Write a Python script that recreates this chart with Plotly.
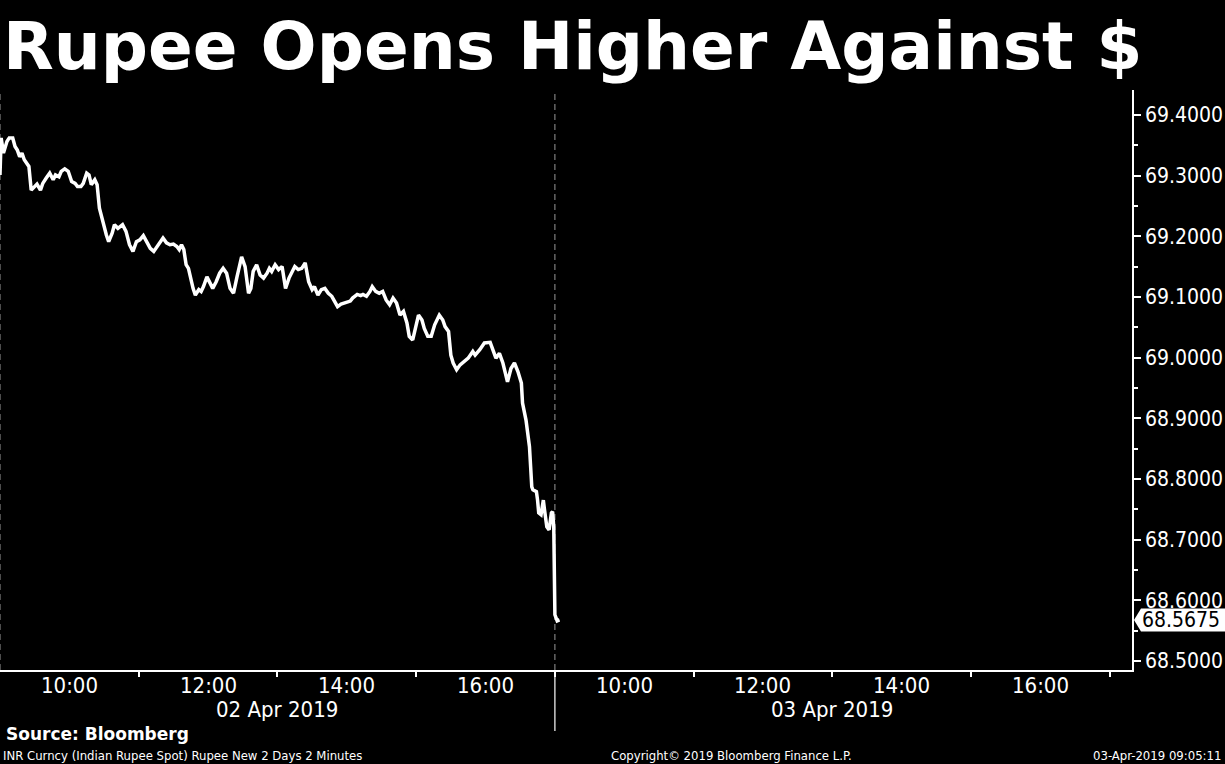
import plotly.graph_objects as go

# ---------------- data ----------------
day1_times = [
    "09:00", "09:01", "09:03", "09:06", "09:08", "09:11", "09:13", "09:15", "09:17", "09:19",
    "09:21", "09:23", "09:25", "09:27", "09:30", "09:32", "09:35", "09:37", "09:40", "09:43",
    "09:46", "09:48", "09:51", "09:53", "09:56", "09:59", "10:02", "10:05", "10:07", "10:10",
    "10:12", "10:15", "10:17", "10:19", "10:22", "10:24", "10:26", "10:28", "10:30", "10:32",
    "10:34", "10:37", "10:39", "10:42", "10:46", "10:49", "10:52", "10:55", "10:58", "11:01",
    "11:04", "11:07", "11:10", "11:13", "11:15", "11:18", "11:21", "11:24", "11:27", "11:30",
    "11:33", "11:35", "11:37", "11:39", "11:41", "11:43", "11:45", "11:47", "11:49", "11:52",
    "11:54", "11:56", "11:59", "12:02", "12:04", "12:07", "12:10", "12:13", "12:16", "12:19",
    "12:22", "12:25", "12:29", "12:32", "12:35", "12:37", "12:39", "12:42", "12:45", "12:48",
    "12:51", "12:53", "12:55", "12:58", "13:01", "13:04", "13:07", "13:10", "13:13", "13:15",
    "13:18", "13:21", "13:24", "13:27", "13:30", "13:32", "13:35", "13:38", "13:41", "13:44",
    "13:47", "13:50", "13:52", "13:55", "13:59", "14:03", "14:05", "14:09", "14:12", "14:14",
    "14:17", "14:20", "14:22", "14:25", "14:28", "14:31", "14:34", "14:37", "14:40", "14:43",
    "14:46", "14:49", "14:52", "14:54", "14:57", "14:59", "15:02", "15:05", "15:07", "15:10",
    "15:13", "15:16", "15:20", "15:23", "15:25", "15:28", "15:30", "15:32", "15:35", "15:38",
    "15:41", "15:45", "15:49", "15:51", "15:55", "15:59", "16:04", "16:06", "16:09", "16:12",
    "16:15", "16:19", "16:22", "16:25", "16:28", "16:31", "16:32", "16:35", "16:38", "16:39",
    "16:40", "16:41", "16:44", "16:45", "16:46", "16:48", "16:50", "16:51", "16:53", "16:55",
    "16:57", "16:58", "16:59",
]
day1_values = [
    69.301, 69.362, 69.337, 69.356, 69.362, 69.362, 69.348, 69.342, 69.331, 69.337,
    69.326, 69.320, 69.315, 69.276, 69.282, 69.286, 69.276, 69.287, 69.296, 69.304,
    69.293, 69.301, 69.298, 69.307, 69.311, 69.307, 69.290, 69.287, 69.282, 69.282,
    69.287, 69.304, 69.301, 69.285, 69.293, 69.285, 69.246, 69.230, 69.219, 69.202,
    69.191, 69.205, 69.219, 69.213, 69.219, 69.208, 69.186, 69.175, 69.191, 69.194,
    69.201, 69.189, 69.180, 69.175, 69.180, 69.189, 69.197, 69.189, 69.186, 69.187,
    69.183, 69.178, 69.186, 69.178, 69.153, 69.147, 69.128, 69.114, 69.103, 69.112,
    69.109, 69.117, 69.133, 69.120, 69.114, 69.125, 69.139, 69.147, 69.139, 69.114,
    69.106, 69.133, 69.166, 69.150, 69.106, 69.114, 69.142, 69.153, 69.136, 69.131,
    69.139, 69.147, 69.142, 69.153, 69.145, 69.150, 69.114, 69.131, 69.142, 69.150,
    69.145, 69.147, 69.156, 69.125, 69.112, 69.117, 69.103, 69.112, 69.114, 69.106,
    69.101, 69.092, 69.084, 69.088, 69.090, 69.093, 69.098, 69.104, 69.102, 69.104,
    69.101, 69.109, 69.117, 69.109, 69.106, 69.109, 69.095, 69.087, 69.098, 69.090,
    69.070, 69.076, 69.057, 69.035, 69.029, 69.048, 69.070, 69.062, 69.048, 69.035,
    69.035, 69.054, 69.070, 69.062, 69.051, 69.043, 69.004, 68.991, 68.980, 68.988,
    68.993, 68.999, 69.010, 69.004, 69.013, 69.024, 69.025, 69.015, 68.999, 69.007,
    68.991, 68.960, 68.982, 68.991, 68.977, 68.958, 68.925, 68.897, 68.853, 68.820,
    68.787, 68.782, 68.779, 68.765, 68.744, 68.741, 68.765, 68.749, 68.721, 68.716,
    68.744, 68.746, 68.721,
]
day2_times = ["09:00", "09:02", "09:04"]
day2_values = [68.576, 68.566, 68.5675]

dates = ["02 Apr 2019", "03 Apr 2019"]
hour_labels = ["10:00", "12:00", "14:00", "16:00"]
label_hours = [10, 12, 14, 16]
minor_hours = [11, 13, 15, 17]
y_ticks = [68.5, 68.6, 68.7, 68.8, 68.9, 69.0, 69.1, 69.2, 69.3, 69.4]

title = "Rupee Opens Higher Against $"
source = "Source: Bloomberg"
note = "INR Curncy (Indian Rupee Spot) Rupee New 2 Days 2 Minutes"
copyright_txt = "Copyright\u00a9 2019 Bloomberg Finance L.P."
stamp = "03-Apr-2019 09:05:11"

# ---------------- helpers ----------------
SESSION_START = 9
SESSION_LEN = 8


def pos(day, t):
    h, m = (int(p) for p in t.split(":"))
    return day * SESSION_LEN + (h - SESSION_START) + m / 60.0


xs = [pos(0, t) for t in day1_times] + [pos(1, t) for t in day2_times]
ys = day1_values + day2_values

W, H = 1225, 764
ML, MR, MT, MB = 0, 93, 90, 94
PW = W - ML - MR
PH = H - MT - MB
XR = [0, 16.32]
YR = [68.485, 69.441]

FONT = "DejaVu Sans Condensed, DejaVu Sans, sans-serif"
WHITE = "#ffffff"

fig = go.Figure()
fig.add_trace(go.Scatter(
    x=xs, y=ys, mode="lines",
    line=dict(color=WHITE, width=3.5),
    hoverinfo="skip", showlegend=False,
))

tickvals = [d * SESSION_LEN + (h - SESSION_START) for d in range(len(dates)) for h in label_hours]
ticktext = hour_labels * len(dates)
minorvals = [d * SESSION_LEN + (h - SESSION_START) for d in range(len(dates)) for h in minor_hours]
y_minor = [round(v + 0.05, 3) for v in y_ticks[:-1]]

fig.update_layout(
    width=W, height=H,
    margin=dict(l=ML, r=MR, t=MT, b=MB),
    paper_bgcolor="#000000", plot_bgcolor="#000000",
    font=dict(family=FONT, color=WHITE, size=21),
    showlegend=False,
    xaxis=dict(
        range=XR, showgrid=False, zeroline=False,
        showline=True, linecolor=WHITE, linewidth=1.5,
        tickmode="array", tickvals=tickvals, ticktext=ticktext,
        ticks="", showticklabels=False,
        minor=dict(tickmode="array", tickvals=minorvals, ticks="outside",
                   ticklen=5, tickwidth=1.5, tickcolor=WHITE, showgrid=False),
        fixedrange=True,
    ),
    yaxis=dict(
        range=YR, side="right", showgrid=False, zeroline=False,
        showline=True, linecolor=WHITE, linewidth=1.5,
        tickmode="array", tickvals=y_ticks, ticktext=[f"{v:.4f}" for v in y_ticks],
        ticks="outside", ticklen=7, tickwidth=2, tickcolor=WHITE,
        tickfont=dict(family=FONT, size=21, color=WHITE),
        minor=dict(tickmode="array", tickvals=y_minor, ticks="outside",
                   ticklen=4, tickwidth=1.5, tickcolor=WHITE, showgrid=False),
        fixedrange=True,
    ),
)


def px_to_paper_x(px):
    return (px - ML) / PW


def px_to_paper_y(py):
    return (H - MB - py) / PH


# hour labels (placed on the x scale, between the odd-hour tick marks)
for xv, lab in zip(tickvals, ticktext):
    fig.add_annotation(x=xv, xref="x", y=px_to_paper_y(685), yref="paper",
                       yanchor="middle", text=lab, showarrow=False,
                       font=dict(family=FONT, size=22, color=WHITE))

# day separators: dashed inside plot, solid below axis
for d in range(len(dates)):
    xv = d * SESSION_LEN
    fig.add_shape(type="line", xref="x", yref="paper", x0=xv, x1=xv, y0=0, y1=1,
                  line=dict(color="#9a9a9a", width=1, dash="6px,4px"), layer="below")
    if d > 0:
        fig.add_shape(type="line", xref="x", yref="paper", x0=xv, x1=xv,
                      y0=0, y1=px_to_paper_y(731),
                      line=dict(color=WHITE, width=1.2))

# date labels centred under each session
for d, lab in enumerate(dates):
    fig.add_annotation(x=d * SESSION_LEN + SESSION_LEN / 2, xref="x",
                       y=px_to_paper_y(709), yref="paper", yanchor="middle",
                       text=lab, showarrow=False,
                       font=dict(family=FONT, size=22, color=WHITE))

# last value tag
last = ys[-1]
yc = (last - YR[0]) / (YR[1] - YR[0])
hh = 11.5 / PH
xt, xb, xe = px_to_paper_x(1134), px_to_paper_x(1141), px_to_paper_x(1226)
fig.add_shape(type="path", xref="paper", yref="paper",
              path=f"M {xt},{yc} L {xb},{yc + hh} L {xe},{yc + hh} L {xe},{yc - hh} L {xb},{yc - hh} Z",
              fillcolor=WHITE, line=dict(width=0))
fig.add_annotation(x=px_to_paper_x(1140), xref="paper", xanchor="left",
                   y=yc, yref="paper", yanchor="middle",
                   text=f"{last:.4f}", showarrow=False,
                   font=dict(family=FONT, size=21, color="#000000"))

# title
fig.add_annotation(x=px_to_paper_x(1), xref="paper", xanchor="left",
                   y=px_to_paper_y(46), yref="paper", yanchor="middle",
                   text=f"<b>{title}</b>", showarrow=False,
                   font=dict(family="DejaVu Sans, sans-serif", size=66, color=WHITE))

# footer
fig.add_annotation(x=px_to_paper_x(4), xref="paper", xanchor="left",
                   y=px_to_paper_y(734), yref="paper", yanchor="middle",
                   text=f"<b>{source}</b>", showarrow=False,
                   font=dict(family="DejaVu Sans, sans-serif", size=17, color=WHITE))
fig.add_annotation(x=px_to_paper_x(1), xref="paper", xanchor="left",
                   y=px_to_paper_y(755), yref="paper", yanchor="middle",
                   text=note, showarrow=False,
                   font=dict(family=FONT, size=13, color=WHITE))
fig.add_annotation(x=px_to_paper_x(731), xref="paper", xanchor="center",
                   y=px_to_paper_y(755), yref="paper", yanchor="middle",
                   text=copyright_txt, showarrow=False,
                   font=dict(family=FONT, size=13, color=WHITE))
fig.add_annotation(x=px_to_paper_x(1223), xref="paper", xanchor="right",
                   y=px_to_paper_y(755), yref="paper", yanchor="middle",
                   text=stamp, showarrow=False,
                   font=dict(family=FONT, size=13, color=WHITE))

fig.write_html(
    "out.html",
    config={"displayModeBar": False},
    post_script="document.body.style.margin='0';document.body.style.background='#000';"
                "document.documentElement.style.background='#000';document.body.style.overflow='hidden';",
)
